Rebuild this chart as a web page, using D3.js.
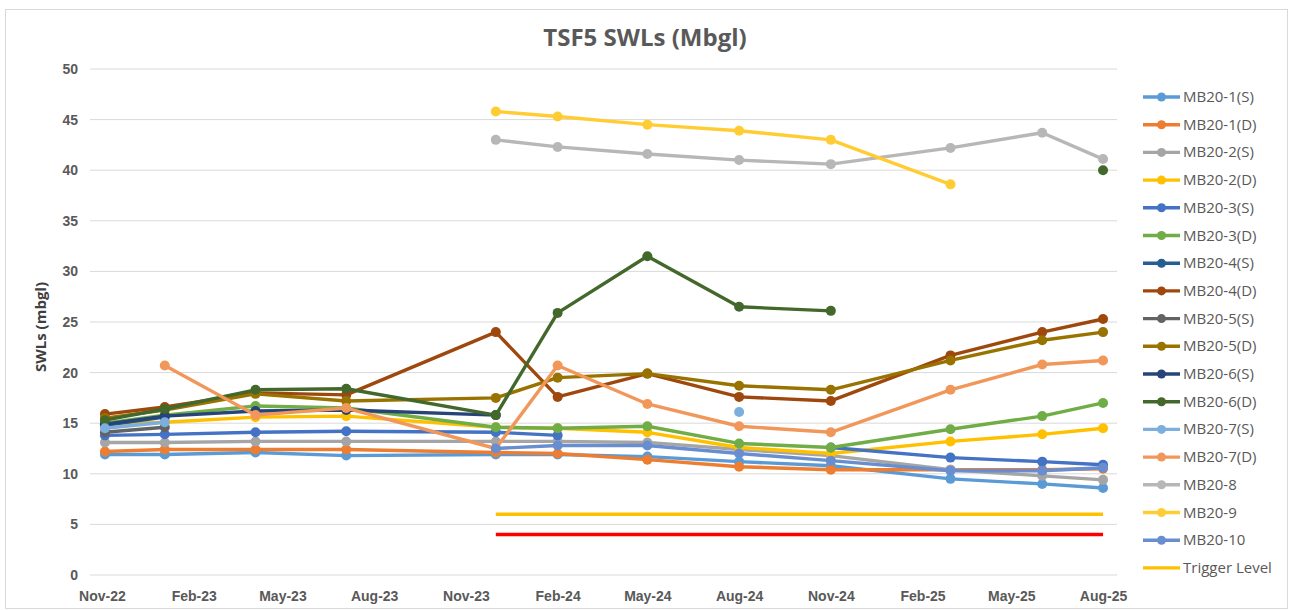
<!DOCTYPE html>
<meta charset="utf-8">
<style>
body { margin:0; background:#fff; font-family:"Open Sans", "Noto Sans", sans-serif; }
.tick text { font-size:14px; font-weight:bold; fill:#595959; }
.grid line { stroke:#d9d9d9; stroke-width:1px; }
.legend text { font-size:15px; fill:#595959; }
</style>
<body>
<script src="https://d3js.org/d3.v7.min.js"></script>
<script>
// sample dates
var dates = ["2022-11-04","2023-01-03","2023-04-04","2023-07-04","2023-12-01","2024-02-01",
             "2024-05-01","2024-08-01","2024-11-01","2025-03-01","2025-06-01","2025-08-01"];

var mb1s  = [11.9, 11.9, 12.1, 11.8, 11.9, 11.9, 11.7, 11.2, 10.8, 9.5, 9.0, 8.6];
var mb1d  = [12.2, 12.4, 12.4, 12.4, 12.1, 12.0, 11.4, 10.7, 10.4, 10.4, 10.4, 10.5];
var mb2s  = [13.1, 13.1, 13.2, 13.2, 13.2, 13.2, 13.1, 12.4, 11.8, 10.4, 9.8, 9.4];
var mb2d  = [14.9, 15.1, 15.6, 15.7, 14.6, 14.5, 14.1, 12.6, 12.0, 13.2, 13.9, 14.5];
var mb3s  = [13.8, 13.9, 14.1, 14.2, 14.1, 13.8, null, null, 12.6, 11.6, 11.2, 10.9];
var mb3d  = [15.0, 15.8, 16.7, 16.5, 14.6, 14.5, 14.7, 13.0, 12.6, 14.4, 15.7, 17.0];
var mb4s  = [14.8, 15.6, null, null, null, null, null, null, null, null, null, null];
var mb4d  = [15.9, 16.6, 18.0, 17.8, 24.0, 17.6, 19.9, 17.6, 17.2, 21.7, 24.0, 25.3];
var mb5s  = [14.1, 14.6, null, null, null, null, null, null, null, null, null, null];
var mb5d  = [15.5, 16.3, 17.9, 17.2, 17.5, 19.5, 19.9, 18.7, 18.3, 21.2, 23.2, 24.0];
var mb6s  = [14.9, 15.7, 16.2, 16.3, 15.8, null, null, null, null, null, null, null];
var mb6d  = [15.3, 16.4, 18.3, 18.4, 15.8, 25.9, 31.5, 26.5, 26.1, null, null, 40.0];
var mb7s  = [14.5, 15.1, null, null, null, null, null, 16.1, null, null, null, null];
var mb7d  = [null, 20.7, 15.8, 16.5, 12.5, 20.7, 16.9, 14.7, 14.1, 18.3, 20.8, 21.2];
var mb8   = [null, null, null, null, 43.0, 42.3, 41.6, 41.0, 40.6, 42.2, 43.7, 41.1];
var mb9   = [null, null, null, null, 45.8, 45.3, 44.5, 43.9, 43.0, 38.6, null, null];
var mb10  = [null, null, null, null, 12.5, 12.8, 12.8, 12.0, 11.3, 10.3, 10.3, 10.6];
var trigger = [null, null, null, null, 6, 6, 6, 6, 6, 6, 6, 6];
var lowLevel = [null, null, null, null, 4, 4, 4, 4, 4, 4, 4, 4];

var names = ["MB20-1(S)","MB20-1(D)","MB20-2(S)","MB20-2(D)","MB20-3(S)","MB20-3(D)","MB20-4(S)","MB20-4(D)",
             "MB20-5(S)","MB20-5(D)","MB20-6(S)","MB20-6(D)","MB20-7(S)","MB20-7(D)","MB20-8","MB20-9","MB20-10","Trigger Level"];
var colors = ["#5B9BD5","#ED7D31","#A5A5A5","#FFC000","#4472C4","#70AD47","#255E91","#9E480E",
              "#636363","#997300","#264478","#43682B","#7CAFDD","#F1975A","#B7B7B7","#FFCD33","#698ED0","#FFC000"];
var values = [mb1s, mb1d, mb2s, mb2d, mb3s, mb3d, mb4s, mb4d, mb5s, mb5d, mb6s, mb6d, mb7s, mb7d, mb8, mb9, mb10, trigger];

var yTicks = [0,5,10,15,20,25,30,35,40,45,50];
var xTickDates = ["2022-11-01","2023-02-01","2023-05-01","2023-08-01","2023-11-01","2024-02-01",
                  "2024-05-01","2024-08-01","2024-11-01","2025-02-01","2025-05-01","2025-08-01"];

var parse = d3.timeParse("%Y-%m-%d");
var W = 1290, H = 610;

var svg = d3.select("body").append("svg").attr("width", W).attr("height", H);

svg.append("rect").attr("x",5.5).attr("y",9.5).attr("width",1282).attr("height",599)
	.attr("fill","#fff").attr("stroke","#d9d9d9");

svg.append("text").attr("x",645).attr("y",46).attr("text-anchor","middle")
	.style("font-size","24px").style("font-weight","bold").style("fill","#595959")
	.text("TSF5 SWLs (Mbgl)");

svg.append("text").attr("transform","translate(46,327) rotate(-90)").attr("text-anchor","middle")
	.style("font-size","15px").style("font-weight","bold").style("fill","#404040")
	.text("SWLs (mbgl)");

var x = d3.scaleTime().domain([parse("2022-10-20"), parse("2025-08-15")]).range([90, 1117]);
var y = d3.scaleLinear().domain([0,50]).range([575, 69]);

// gridlines
svg.append("g").attr("class","grid")
	.selectAll("line").data(yTicks).enter().append("line")
	.attr("x1",90).attr("x2",1117).attr("y1",d=>y(d)).attr("y2",d=>y(d));

// y axis labels
var yAxis = svg.append("g").attr("transform","translate(78,0)")
	.call(d3.axisLeft(y).tickValues(yTicks).tickSize(0).tickPadding(0));
yAxis.select(".domain").remove();

// x axis labels, every 3 months
var xAxis = svg.append("g").attr("transform","translate(0,588)")
	.call(d3.axisBottom(x).tickValues(xTickDates.map(parse)).tickFormat(d3.timeFormat("%b-%y")).tickSize(0).tickPadding(3));
xAxis.select(".domain").remove();

var line = d3.line()
	.defined(d=>d.v != null)
	.x(d=>x(d.date)).y(d=>y(d.v));

function pts(arr) {
	return arr.map(function(v,i){ return {date: parse(dates[i]), v: v}; });
}

// red level line (not in legend)
svg.append("path").datum(pts(lowLevel)).attr("d",line)
	.attr("fill","none").attr("stroke","#FF0000").attr("stroke-width",3.5);

values.forEach(function(arr,i){
	var g = svg.append("g");
	var data = pts(arr);
	g.append("path").datum(data).attr("d",line)
		.attr("fill","none").attr("stroke",colors[i]).attr("stroke-width",3.4)
		.attr("stroke-linejoin","round");
	if (names[i] !== "Trigger Level") {
		g.selectAll("circle").data(data.filter(d=>d.v != null)).enter().append("circle")
			.attr("cx",d=>x(d.date)).attr("cy",d=>y(d.v)).attr("r",5)
			.attr("fill",colors[i]);
	}
});

// legend
var leg = svg.append("g").attr("class","legend");
names.forEach(function(n,i){
	var ly = 97 + i*27.7;
	leg.append("line").attr("x1",1143).attr("x2",1180).attr("y1",ly).attr("y2",ly)
		.attr("stroke",colors[i]).attr("stroke-width",3.4);
	if (n !== "Trigger Level")
		leg.append("circle").attr("cx",1161.5).attr("cy",ly).attr("r",4.5).attr("fill",colors[i]);
	leg.append("text").attr("x",1183).attr("y",ly+5).text(n);
});
</script>
</body>
</html>
